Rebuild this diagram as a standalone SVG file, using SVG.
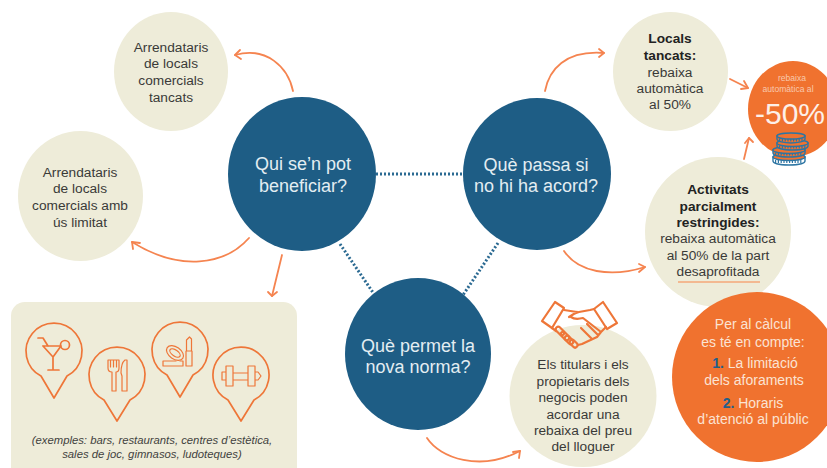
<svg xmlns="http://www.w3.org/2000/svg" width="827" height="468" viewBox="0 0 827 468">
<style>
text{font-family:"Liberation Sans",Arial,sans-serif;text-anchor:middle}
.cream{fill:#eeecd9}
.blue{fill:#1e5d85}
.orange{fill:#f0722f}
.t{font-size:13.7px;fill:#3a3a38}
.b{font-weight:bold;fill:#222}
.q{font-size:18px;fill:#e3edf2}
.w{font-size:14px;fill:#fbe3d3}
.ar{fill:none;stroke:#f58450;stroke-width:1.8;stroke-linecap:round;stroke-linejoin:round}
.dot{fill:none;stroke:#2b6a92;stroke-width:3;stroke-dasharray:2 2}
.ic{fill:none;stroke:#ee7638;stroke-width:1.7;stroke-linejoin:round;stroke-linecap:round}
.thin{stroke-width:1.2}
.hs{fill:none;stroke:#ee7638;stroke-width:2.2;stroke-linejoin:round;stroke-linecap:round}
.coin{stroke:#2d75a3;stroke-width:1.4}
.band{fill:none;stroke:#2d75a3;stroke-width:3;stroke-dasharray:1.2 1.6}
</style>
<rect width="827" height="468" fill="#fff"/>
<g id="connectors">
<path class="dot" d="M376 174H463"/>
<path class="dot" d="M340 244L374 294"/>
<path class="dot" d="M498 243L463 295"/>
<path class="ar" d="M293 91C288 67 266 46 235 55"/>
<path class="ar" d="M240 50L235 55L241 59"/>
<path class="ar" d="M249 238C225 265 180 272 132 242"/>
<path class="ar" d="M133 249L132 242L140 243"/>
<path class="ar" d="M282 255L272 296"/>
<path class="ar" d="M268 292L272 296L277 292"/>
<path class="ar" d="M545 91C549 70 565 50 604 53"/>
<path class="ar" d="M599 49L604 53L599 57"/>
<path class="ar" d="M564 251C578 272 610 278 645 267"/>
<path class="ar" d="M639 264L645 267L639 272"/>
<path class="ar" d="M730 79L748 88"/>
<path class="ar" d="M741 89L748 88L744 81"/>
<path class="ar" d="M744 159L749 138"/>
<path class="ar" d="M745 143L749 138L753 142"/>
<path class="ar" d="M427 438C440 458 480 472 520 451"/>
<path class="ar" d="M513 452L520 451L519 458"/>
</g>
<g id="q-beneficiar"><ellipse class="blue" cx="302" cy="174" rx="74" ry="77"/><text class="q" x="303" y="170">Qui se’n pot</text><text class="q" x="303" y="192">beneficiar?</text></g>
<g id="q-acord"><ellipse class="blue" cx="537" cy="174" rx="74" ry="76"/><text class="q" x="536" y="171">Què passa si</text><text class="q" x="536" y="192">no hi ha acord?</text></g>
<g id="q-norma"><ellipse class="blue" cx="418" cy="354" rx="73" ry="76"/><text class="q" x="418" y="352">Què permet la</text><text class="q" x="418" y="373">nova norma?</text></g>
<g id="n-tancats"><ellipse class="cream" cx="171" cy="71.500" rx="57" ry="59.500"/><g class="t"><text x="171" y="52">Arrendataris</text><text x="171" y="68">de locals</text><text x="171" y="85">comercials</text><text x="171" y="102">tancats</text></g></g>
<g id="n-limitat"><ellipse class="cream" cx="80.500" cy="196" rx="62.500" ry="65"/><g class="t"><text x="80" y="177">Arrendataris</text><text x="80" y="193">de locals</text><text x="80" y="210">comercials amb</text><text x="80" y="227">ús limitat</text></g></g>
<g id="n-locals"><ellipse class="cream" cx="670.500" cy="71.500" rx="57.500" ry="59.500"/><g class="t"><text class="b" x="670" y="43">Locals</text><text class="b" x="670" y="60">tancats:</text><text x="670" y="77">rebaixa</text><text x="670" y="93">automàtica</text><text x="670" y="109">al 50%</text></g></g>
<g id="n-parcial"><ellipse class="cream" cx="718" cy="232" rx="73" ry="75"/><g class="t"><text class="b" x="718" y="194">Activitats</text><text class="b" x="718" y="211">parcialment</text><text class="b" x="718" y="227">restringides:</text><text x="718" y="243">rebaixa automàtica</text><text x="718" y="260">al 50% de la part</text><text x="718" y="276">desaprofitada</text></g><path d="M678 282H760" fill="none" stroke="#f4a878" stroke-width="1.5"/></g>
<g id="n-50"><ellipse class="orange" cx="793" cy="109" rx="45" ry="48"/><text x="792" y="81" font-size="8.600" fill="#f9c9ad">rebaixa</text><text x="788" y="92" font-size="8.600" fill="#f9c9ad">automàtica al</text><text x="755" y="124" font-size="30" fill="#fdf0e8" style="text-anchor:start">-50%</text>
<g id="coins">
<path class="coin" fill="#fff" d="M773 157V161C773 163.500 780 165 789 165C798 165 805 163.500 805 161V157Z"/><path class="band" d="M775 161.500H803"/><ellipse class="coin" fill="#f0722f" cx="789" cy="157" rx="16" ry="3.500"/>
<path class="coin" fill="#f0722f" d="M773 150V153C773 155.500 780 157 789 157C798 157 805 155.500 805 153V150Z"/><path class="band" d="M775 154H803"/><ellipse class="coin" fill="#f0722f" cx="789" cy="150" rx="16" ry="3.500"/>
<path class="coin" fill="#f0722f" d="M777 143V146C777 148.500 784 150 792.500 150C801 150 808 148.500 808 146V143Z"/><path class="band" d="M779 147H806"/><ellipse class="coin" fill="#f0722f" cx="792.500" cy="143" rx="15.500" ry="3.500"/>
<path class="coin" fill="#f0722f" d="M777 136V139C777 141.500 784 143 791 143C798 143 805 141.500 805 139V136Z"/><path class="band" d="M779 140H803"/><ellipse class="coin" fill="#f0722f" cx="791" cy="136" rx="14" ry="3"/>
</g></g>
<g id="n-calcul"><ellipse class="orange" cx="757" cy="377" rx="85" ry="85"/><g class="w"><text x="753" y="329">Per al càlcul</text><text x="753" y="347">es té en compte:</text><text x="755" y="368"><tspan fill="#215f8a" font-weight="bold">1.</tspan> La limitació</text><text x="754" y="385">dels aforaments</text><text x="753" y="408"><tspan fill="#215f8a" font-weight="bold">2.</tspan> Horaris</text><text x="753" y="424">d’atenció al públic</text></g></g>
<g id="n-titulars"><ellipse class="cream" cx="583" cy="396" rx="73.500" ry="71"/><g class="t"><text x="583" y="369">Els titulars i els</text><text x="583" y="386">propietaris dels</text><text x="583" y="402">negocis poden</text><text x="583" y="419">acordar una</text><text x="583" y="435">rebaixa del preu</text><text x="583" y="451">del lloguer</text></g></g>
<g id="handshake">
<path class="hs" d="M555 302L564 308L552 328L542 321ZM603 302L617 323L607 329L594 309Z"/>
<path class="hs" d="M564 310L577 312M594 309L590 310L579 312Q572 314 571 317Q575 320 583 318L601 332M577 312L569 317M552 328L556 331M606 327L601 332L597 337L582 344L578 345M581 328L592 339M587 324L598 335"/>
<g class="hs"><rect x="555" y="328.500" width="10" height="5" rx="2.500" transform="rotate(45 560 331)"/><rect x="560" y="333.500" width="10" height="5" rx="2.500" transform="rotate(45 565 336)"/><rect x="564" y="337.500" width="10" height="5" rx="2.500" transform="rotate(45 569 340)"/><rect x="569" y="341.500" width="9" height="5" rx="2.500" transform="rotate(45 574 344)"/></g>
</g>
<g id="panel"><rect class="cream" x="11" y="302" width="286" height="190" rx="14"/>
<g id="pin1"><path class="ic" d="M41 376A28 28 0 1 1 67 376L54 398Z"/><path class="ic" d="M38 338H43L48 346M43 346H61L53 357V370M48 370H59M43 346L53 357"/><circle class="ic" cx="65" cy="345" r="4.500"/></g>
<g id="pin2"><path class="ic" d="M104 400A28 28 0 1 1 130 400L117 421Z"/><path class="ic thin" d="M108 360V368C108 371 110 372 112 372V391H116V372C118 372 119 371 119 368V360ZM110.500 360V367M113.500 360V367M116.500 360V367M125 360L127 360V391H122V376L121 373Q121 363 125 360Z"/></g>
<g id="pin3"><path class="ic" d="M167 375A28 28 0 1 1 193 375L180 397Z"/><path class="ic thin" d="M163 361H176M163 361V366H183V361H180M186 351H192V366H186ZM186.500 351V340L189.500 337L191.500 339V351"/><ellipse class="ic thin" cx="175" cy="353" rx="9.500" ry="6" transform="rotate(35 175 353)"/><ellipse class="ic thin" cx="175" cy="353" rx="6" ry="3" transform="rotate(35 175 353)"/></g>
<g id="pin4"><path class="ic" d="M228 400A28 28 0 1 1 254 400L241 421Z"/><path class="ic thin" d="M226 366H233V386H226ZM248 366H255V386H248ZM233 373H248V380H233ZM226 372H222V380H226M255 372H258L261 376L258 380H255"/></g>
<text x="152" y="444" font-size="11.300" font-style="italic" fill="#424240">(exemples: bars, restaurants, centres d’estètica,</text><text x="152" y="458" font-size="11.300" font-style="italic" fill="#424240">sales de joc, gimnasos, ludoteques)</text></g>
</svg>
